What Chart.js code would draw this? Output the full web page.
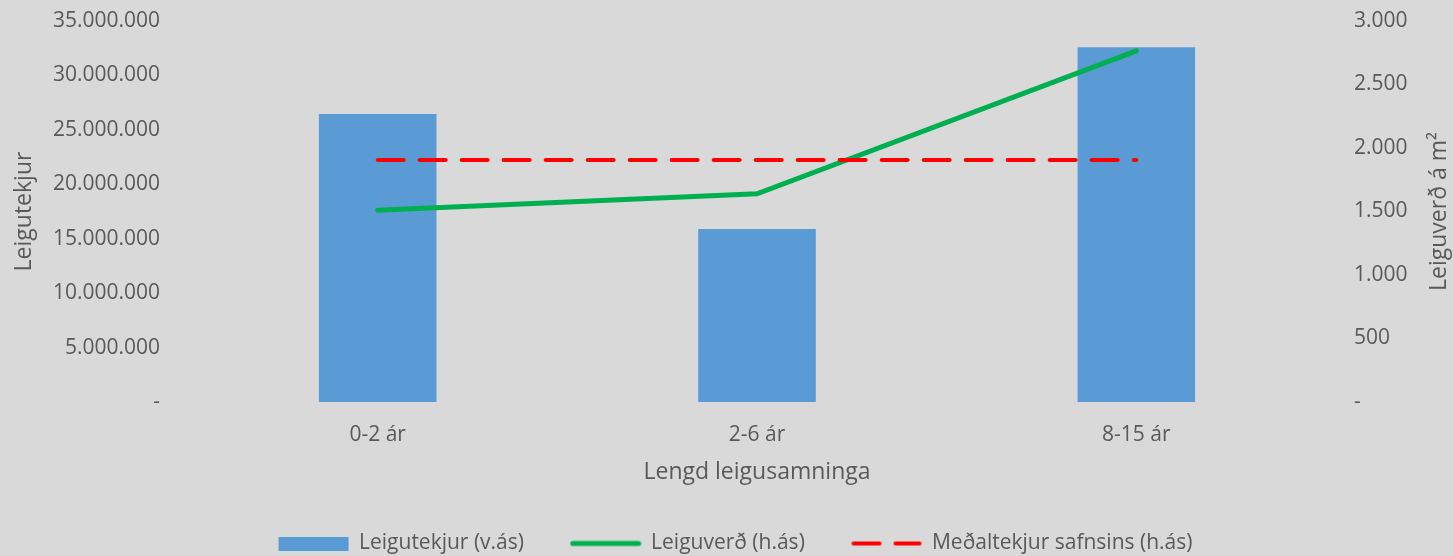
<!DOCTYPE html>
<html>
<head>
<meta charset="utf-8">
<script src="https://cdn.jsdelivr.net/npm/chart.js@4/dist/chart.umd.min.js"></script>
<style>
  html, body { margin:0; padding:0; background:#d9d9d9; }
  #wrap { width:1453px; height:556px; }
</style>
</head>
<body>
<div id="wrap"><canvas id="chart"></canvas></div>
<script>
// data
const categories = ['0-2 ár', '2-6 ár', '8-15 ár'];
const rentIncome = [26450000, 15900000, 32600000];   // Leigutekjur (v.ás)
const rentPrice = [1510, 1640, 2765];                // Leiguverð (h.ás)
const avgIncome = [1905, 1905, 1905];                // Meðaltekjur safnsins (h.ás)
const seriesNames = ['Leigutekjur (v.ás)', 'Leiguverð (h.ás)', 'Meðaltekjur safnsins (h.ás)'];

const TEXT = '#595959';
const FONT = "'Open Sans', sans-serif";
const BLUE = '#5b9bd5', GREEN = '#00b050', RED = '#ff0000';

function fmt(v){
  if(v === 0) return '-';
  return String(Math.round(v)).replace(/\B(?=(\d{3})+(?!\d))/g, '.');
}

// little canvases used as legend symbols (legend ignores lineDash for point styles)
function symbol(draw){
  const c = document.createElement('canvas');
  c.width = 72; c.height = 14;
  draw(c.getContext('2d'));
  return c;
}
const legendSymbols = [
  symbol(g => { g.fillStyle = BLUE; g.fillRect(1, 0, 70, 14); }),
  symbol(g => { g.strokeStyle = GREEN; g.lineWidth = 5; g.lineCap = 'round';
                g.beginPath(); g.moveTo(3, 7); g.lineTo(69, 7); g.stroke(); }),
  symbol(g => { g.strokeStyle = RED; g.lineWidth = 4; g.lineCap = 'round';
                g.beginPath(); g.moveTo(3, 7); g.lineTo(29, 7); g.moveTo(45, 7); g.lineTo(69, 7); g.stroke(); })
];

// right axis title reads bottom-to-top like the left one, so draw it ourselves
const rightTitle = {
  id: 'rightTitle',
  afterDraw(chart){
    const {ctx, chartArea} = chart;
    ctx.save();
    ctx.translate(1439, (chartArea.top + chartArea.bottom) / 2);
    ctx.rotate(-Math.PI / 2);
    ctx.font = `23px ${FONT}`;
    ctx.fillStyle = TEXT;
    ctx.textAlign = 'center';
    ctx.textBaseline = 'middle';
    ctx.fillText('Leiguverð á m²', 0, 0);
    ctx.restore();
  }
};

const gaps = ['        ', '        ', ''];

new Chart(document.getElementById('chart'), {
  data: {
    labels: categories,
    datasets: [
      { type:'bar', label: seriesNames[0], data: rentIncome, yAxisID:'y',
        backgroundColor: BLUE, categoryPercentage:1, barPercentage:0.31, order:3 },
      { type:'line', label: seriesNames[1], data: rentPrice, yAxisID:'y1',
        borderColor: GREEN, backgroundColor: GREEN, borderWidth:5,
        borderCapStyle:'round', pointRadius:0, tension:0, order:2 },
      { type:'line', label: seriesNames[2], data: avgIncome, yAxisID:'y1',
        borderColor: RED, backgroundColor: RED, borderWidth:4,
        borderDash:[26,16], borderCapStyle:'round', pointRadius:0, tension:0, order:1 }
    ]
  },
  options: {
    responsive:true, maintainAspectRatio:false, animation:false,
    // negative right padding nudges the centred legend to the right
    layout: { padding: { top:21, left:0, right:-18, bottom:-8 } },
    plugins: {
      tooltip: { enabled:false },
      legend: {
        position:'bottom',
        labels: {
          color: TEXT, font: { family: FONT, size: 21 },
          usePointStyle:true, pointStyleWidth:70, boxWidth:70, boxHeight:14, padding:3,
          generateLabels(chart){
            const items = Chart.defaults.plugins.legend.labels.generateLabels(chart);
            items.sort((a, b) => a.datasetIndex - b.datasetIndex);
            items.forEach(it => {
              it.pointStyle = legendSymbols[it.datasetIndex];
              it.text = it.text + gaps[it.datasetIndex];
            });
            return items;
          }
        }
      }
    },
    scales: {
      x: {
        grid: { display:false, drawTicks:false }, border: { display:false },
        ticks: { color: TEXT, font: { family: FONT, size: 21 }, padding: 20 },
        title: { display:true, text:'Lengd leigusamninga', color: TEXT,
                 font: { family: FONT, size: 23 }, padding: { top:0, bottom:44 } },
        afterFit(s){ s.height = 128; }
      },
      y: {
        position:'left', min:0, max:35000000,
        grid: { display:false, drawTicks:false }, border: { display:false },
        ticks: { stepSize:5000000, color: TEXT, font: { family: FONT, size: 21 }, padding: 28, callback: fmt },
        title: { display:true, text:'Leigutekjur', color: TEXT,
                 font: { family: FONT, size: 23 }, padding: { top:11, bottom:0 } },
        afterFit(s){ s.width = 188; s.paddingTop = 0; s.paddingBottom = 0; }
      },
      y1: {
        position:'right', min:0, max:3000,
        grid: { display:false, drawTicks:false }, border: { display:false },
        ticks: { stepSize:500, color: TEXT, font: { family: FONT, size: 21 }, padding: 28, callback: fmt },
        afterFit(s){ s.width = 145; s.paddingTop = 0; s.paddingBottom = 0; }
      }
    }
  },
  plugins: [rightTitle]
});
</script>
</body>
</html>
